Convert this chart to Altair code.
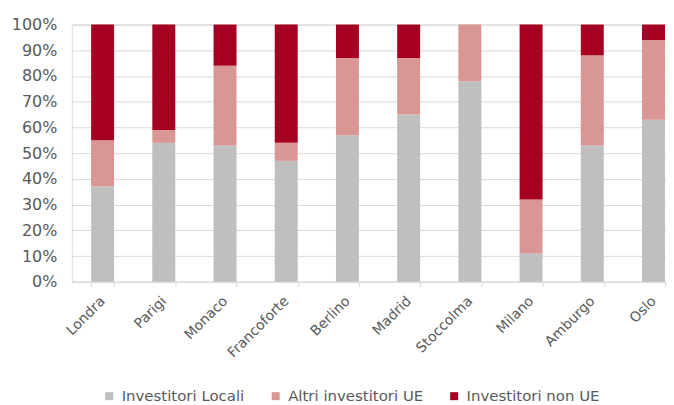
import altair as alt
import pandas as pd

cities = ["Londra", "Parigi", "Monaco", "Francoforte", "Berlino", "Madrid",
          "Stoccolma", "Milano", "Amburgo", "Oslo"]
series = ["Investitori Locali", "Altri investitori UE", "Investitori non UE"]
locali = [37, 54, 53, 47, 57, 65, 78, 11, 53, 63]
altri_ue = [18, 5, 31, 7, 30, 22, 22, 21, 35, 31]
non_ue = [45, 41, 16, 46, 13, 13, 0, 68, 12, 6]
colors = ["#BFBFBF", "#D99694", "#A50021"]
y_ticks = [0, 0.1, 0.2, 0.3, 0.4, 0.5, 0.6, 0.7, 0.8, 0.9, 1.0]

rows = []
for i, c in enumerate(cities):
    for k, (s, vals) in enumerate(zip(series, [locali, altri_ue, non_ue])):
        rows.append({"Città": c, "Serie": s, "Quota": vals[i] / 100, "ordine": k})
df = pd.DataFrame(rows)

FONT = "DejaVu Sans"
GREY = "#595959"

chart = alt.Chart(df).mark_bar().encode(
    x=alt.X("Città:N", sort=cities,
            scale=alt.Scale(paddingInner=0.625, paddingOuter=0.166, align=0.95),
            axis=alt.Axis(title=None, labelAngle=-45, labelAlign="right",
                          labelBaseline="middle", labelFontSize=14,
                          labelColor=GREY, labelFont=FONT, labelPadding=12,
                          domainColor="#D9D9D9", tickColor="#D9D9D9",
                          tickBand="extent", tickSize=5, grid=False)),
    y=alt.Y("Quota:Q", stack="zero",
            scale=alt.Scale(domain=[0, 1], nice=False),
            axis=alt.Axis(title=None, format=".0%", values=y_ticks,
                          labelOverlap=False,
                          labelFontSize=16, labelColor=GREY, labelFont=FONT,
                          labelPadding=15, domain=False, ticks=False,
                          gridColor="#D9D9D9", gridWidth=1)),
    color=alt.Color("Serie:N", sort=series,
                    scale=alt.Scale(domain=series, range=colors),
                    legend=alt.Legend(title=None, orient="none",
                                      legendX=30, legendY=365,
                                      direction="horizontal",
                                      symbolType="square", symbolSize=64,
                                      symbolStrokeWidth=0,
                                      labelFontSize=15, labelColor=GREY,
                                      labelFont=FONT, columnPadding=23,
                                      labelOffset=5)),
    order=alt.Order("ordine:Q", sort="ascending"),
).properties(
    width=596, height=258,
    padding={"left": 3, "top": 8, "right": 0, "bottom": 0},
).configure_view(stroke=None).configure(background="white")

chart.save("out.html", embed_options={"renderer": "svg", "actions": False})
